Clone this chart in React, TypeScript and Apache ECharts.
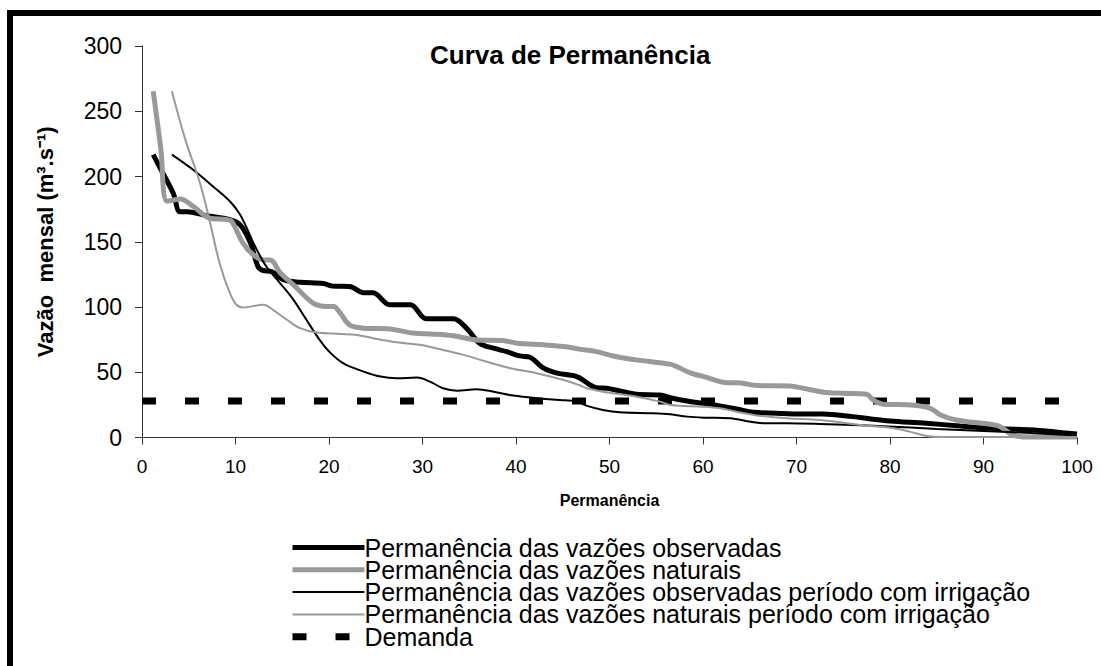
import React, { useEffect, useRef } from "react";
import * as echarts from "echarts";

const FONT = "'Liberation Sans', Arial, sans-serif";

const xTicks = [0, 10, 20, 30, 40, 50, 60, 70, 80, 90, 100];
const yTicks = [0, 50, 100, 150, 200, 250, 300];

const seriesNames = [
  "Permanência das vazões observadas",
  "Permanência das vazões naturais",
  "Permanência das vazões observadas período com irrigação",
  "Permanência das vazões naturais período com irrigação",
  "Demanda",
];

const obsX = [1.2, 2.2, 3.35, 4.06, 4.8, 6.9, 9.4, 10.5, 11.6, 12.4, 12.9, 13.9, 15.1, 16.9, 19.4, 20.4, 22.2, 23.7, 24.7, 26.5, 28.7, 30.4, 33.3, 34.7, 36.1, 37.6, 39.0, 40.4, 41.5, 42.9, 44.4, 46.5, 48.6, 49.7, 51.1, 52.9, 55.4, 56.5, 58.3, 60.0, 61.8, 63.6, 65.4, 67.9, 70.0, 72.8, 76.0, 78.2, 80.0, 83.9, 87.5, 91.0, 93.5, 96.4, 98.5, 100];
const obsY = [216.8, 203, 187, 173, 173, 170, 167, 163, 149, 131, 128, 127, 121, 119, 118, 116, 115.7, 111, 111, 101.7, 101.7, 91, 91, 83.8, 72.3, 68.4, 65.8, 62.5, 61.5, 53.3, 49.3, 46.7, 38.2, 37.7, 35.7, 33.1, 32.6, 30.5, 28, 26.2, 24.2, 21.9, 19.3, 18.6, 18, 18, 16, 14, 12.7, 10.9, 8.8, 7, 6.3, 5.2, 3.7, 2.7];

const natX = [1.2, 2.0, 2.7, 4.06, 5.5, 7.3, 9.1, 9.6, 10.8, 11.9, 13.0, 13.7, 14.8, 16.2, 18.3, 19.8, 20.5, 21.2, 22.2, 23.7, 26.5, 29.0, 31.2, 33.3, 35.8, 38.6, 40.1, 42.9, 45.1, 46.8, 48.6, 50.4, 52.9, 56.5, 57.2, 58.7, 60.1, 62.6, 63.6, 65.8, 69.3, 70.7, 72.9, 75.0, 77.5, 78.2, 79.3, 82.1, 84.3, 85.4, 87.1, 90.7, 91.8, 92.8, 93.5, 95, 100];
const natY = [265.3, 222, 181, 182.8, 177, 168, 167, 165.6, 149, 140, 136, 136, 126, 117, 103, 100.4, 100.4, 95.3, 86.3, 83.8, 83.2, 80, 79.2, 77.9, 74.8, 74.3, 72.3, 71, 69.7, 67.7, 65.8, 62.5, 59.5, 56.2, 54.3, 49.3, 46.7, 42, 42, 39.8, 39.5, 37.7, 34.7, 33.9, 33.1, 28.8, 25.5, 24.9, 22.4, 17.3, 13.4, 10.1, 8.3, 3.2, 1.2, 0.3, 0.3];

const obsIrrX = [3.2, 5.5, 7.6, 9.4, 10.5, 11.2, 12.1, 13.3, 14.8, 16.2, 17.6, 19.0, 20.1, 21.5, 23.7, 25.5, 27.2, 29.4, 30.8, 32.2, 33.7, 35.8, 37.6, 39.7, 42.2, 44.7, 46.5, 47.6, 49.3, 51.1, 54.7, 56.5, 58.3, 60.1, 62.9, 65.1, 66.5, 69.0, 72.5, 76, 80.4, 85, 90, 95, 100];
const obsIrrY = [216.8, 205, 192.4, 181, 170.7, 160.5, 146.4, 131, 118, 105.5, 90, 74.8, 65.2, 57, 50.5, 46.7, 45.4, 45.9, 42.8, 37.7, 35.9, 37, 35.1, 32.1, 30.1, 28.8, 27.5, 24.2, 21.1, 19.3, 18.6, 17.8, 16, 15.2, 14.7, 12.1, 10.9, 10.9, 10.4, 9.5, 8.3, 6.5, 5, 3.5, 1.5];

const natIrrX = [3.2, 4.6, 6.2, 7.3, 8.3, 9.4, 10.1, 10.8, 13.0, 14.0, 15.5, 16.9, 18.7, 21.2, 23.0, 24.7, 27.2, 29.7, 32.2, 34.4, 36.8, 39.4, 42.2, 45.1, 46.8, 47.6, 49.3, 52.9, 55.4, 56.5, 60.1, 61.8, 63.6, 65.4, 69.0, 72.5, 76.8, 80.4, 82.1, 83.9, 85.7, 90, 100];
const natIrrY = [265.3, 229, 195, 164, 133.6, 110.6, 101.7, 99.6, 101.7, 97.8, 90.2, 83.8, 80.4, 79.4, 78.6, 76.1, 73, 71, 67.1, 63.3, 58.2, 53.1, 49.3, 44.1, 40, 37.7, 35.1, 31.3, 27.5, 24.9, 23.6, 22.4, 19.8, 17.3, 14.7, 13.4, 9.6, 7, 4.5, 1.2, 0.3, 0.3, 0.3];

const demandX = [0, 100];
const demandY = [28, 28];

const zip = (xs: number[], ys: number[]) => xs.map((x, i) => [x, ys[i]]);

const seriesColors = ["#000", "#999", "#000", "#999", "#000"];
const seriesWidths = [5, 5, 2, 2, 7];
const demandDash = [14, 29];

export default function App() {
  const ref = useRef<HTMLDivElement>(null);
  useEffect(() => {
    if (!ref.current) return;
    const chart = echarts.init(ref.current, null, { renderer: "svg" });
    const axisColor = "#333";
    const lineSeries = (i: number, data: number[][]) => ({
      name: seriesNames[i],
      type: "line",
      data,
      showSymbol: false,
      symbol: "none",
      smooth: 0.35,
      lineStyle: { color: seriesColors[i], width: seriesWidths[i] },
      itemStyle: { color: seriesColors[i] },
      z: 3,
    });
    const legendData = seriesNames.map((name, i) => ({
      name,
      itemStyle: { opacity: 0, borderWidth: 0, color: "rgba(0,0,0,0)", borderColor: "rgba(0,0,0,0)" },
      lineStyle: {
        color: seriesColors[i],
        width: seriesWidths[i],
        type: i === 4 ? demandDash : "solid",
        cap: "butt",
        opacity: 1,
      },
    }));
    chart.setOption({
      animation: false,
      backgroundColor: "#fff",
      title: {
        text: "Curva de Permanência",
        left: 430,
        top: 42,
        padding: 0,
        textStyle: { fontFamily: FONT, fontSize: 26, fontWeight: "bold", color: "#000" },
      },
      grid: { left: 142, right: 24, top: 46, bottom: 228.5, containLabel: false },
      xAxis: {
        type: "value",
        min: xTicks[0],
        max: xTicks[xTicks.length - 1],
        interval: 10,
        name: "Permanência",
        nameLocation: "middle",
        nameGap: 55,
        nameTextStyle: { fontFamily: FONT, fontSize: 16, fontWeight: "bold", color: "#000" },
        axisLine: { show: true, onZero: false, lineStyle: { color: axisColor, width: 1 } },
        axisTick: { show: true, length: 7, lineStyle: { color: axisColor } },
        axisLabel: { fontFamily: FONT, fontSize: 19, color: "#000", margin: 19 },
        splitLine: { show: false },
      },
      yAxis: {
        type: "value",
        min: yTicks[0],
        max: yTicks[yTicks.length - 1],
        interval: 50,
        name: "Vazão  mensal (m³.s⁻¹)",
        nameLocation: "middle",
        nameRotate: 90,
        nameGap: 86,
        nameTextStyle: { fontFamily: FONT, fontSize: 22, fontWeight: "bold", color: "#000" },
        axisLine: { show: true, lineStyle: { color: axisColor, width: 1 } },
        axisTick: { show: true, length: 7, lineStyle: { color: axisColor } },
        axisLabel: { fontFamily: FONT, fontSize: 23, color: "#000", margin: 20 },
        splitLine: { show: false },
      },
      legend: {
        orient: "vertical",
        left: 289,
        top: 535,
        padding: 0,
        itemGap: -2.7,
        itemWidth: 72,
        itemHeight: 8,
        selectedMode: false,
        data: legendData,
        itemStyle: { opacity: 0, borderWidth: 0 },
        textStyle: { fontFamily: FONT, fontSize: 25, color: "#000", padding: [0, 0, 0, -5] },
      },
      graphic: [
        { type: "rect", left: 7, top: 10, shape: { width: 1094, height: 6 }, style: { fill: "#000" }, z: 10 },
        { type: "rect", left: 7, top: 10, shape: { width: 6, height: 656 }, style: { fill: "#000" }, z: 10 },
      ],
      series: [
        lineSeries(0, zip(obsX, obsY)),
        lineSeries(1, zip(natX, natY)),
        lineSeries(2, zip(obsIrrX, obsIrrY)),
        lineSeries(3, zip(natIrrX, natIrrY)),
        {
          name: seriesNames[4],
          type: "line",
          data: zip(demandX, demandY),
          showSymbol: false,
          symbol: "none",
          lineStyle: { color: "#000", width: seriesWidths[4], type: demandDash, cap: "butt" },
          itemStyle: { color: "#000" },
          z: 2,
        },
      ],
    });
    return () => chart.dispose();
  }, []);
  return (
    <div
      ref={ref}
      style={{ position: "fixed", left: 0, top: 0, width: 1101, height: 666, background: "#fff" }}
    />
  );
}
